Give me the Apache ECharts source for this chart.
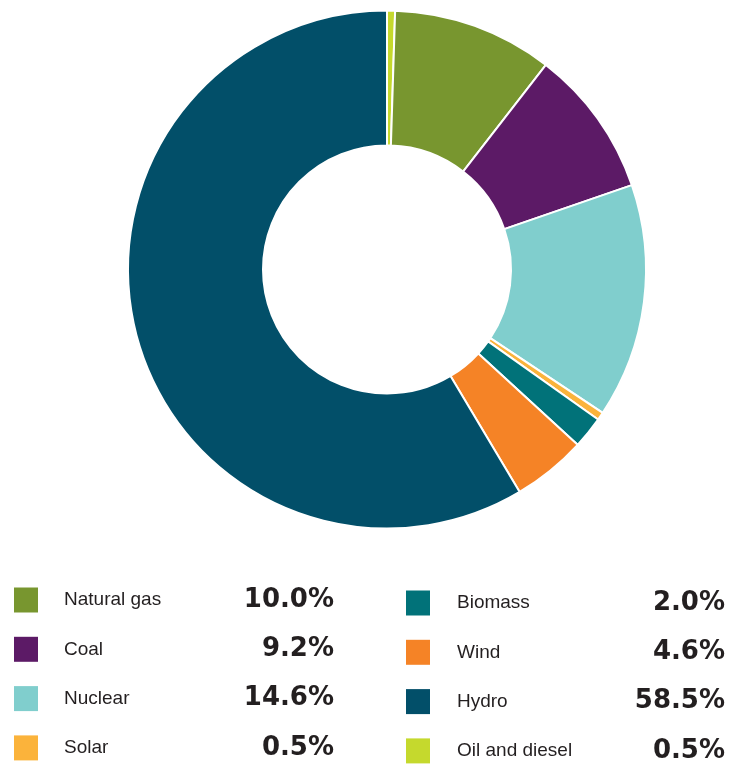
<!DOCTYPE html>
<html>
<head>
<meta charset="utf-8">
<script src="https://cdn.jsdelivr.net/npm/echarts@6/dist/echarts.min.js"></script>
<style>
  html, body { margin: 0; padding: 0; background: #ffffff; }
  #chart { width: 733px; height: 765px; }
</style>
</head>
<body>
<div id="chart"></div>
<script>
// Electricity generation mix, share of total (%)
const sources = ['Oil and diesel', 'Natural gas', 'Coal', 'Nuclear', 'Solar', 'Biomass', 'Wind', 'Hydro'];
const shares  = [0.5, 10.0, 9.2, 14.6, 0.5, 2.0, 4.6, 58.5];
const colors  = ['#c5d92d', '#78962f', '#5c1a66', '#80cecd', '#fbb33b', '#017279', '#f58326', '#024f69'];

// Legend columns
const legendLeftCol  = ['Natural gas', 'Coal', 'Nuclear', 'Solar'];
const legendRightCol = ['Biomass', 'Wind', 'Hydro', 'Oil and diesel'];

const shareOf = name => shares[sources.indexOf(name)];

function legendBlock(names, left, top, spacer, nameW, valueW) {
  return {
    data: names,
    orient: 'vertical',
    left: left,
    top: top,
    height: 300,
    padding: 0,
    itemWidth: 24,
    itemHeight: 25,
    itemGap: 23.3,
    icon: 'rect',
    selectedMode: false,
    itemStyle: { borderWidth: 0 },
    formatter: name => '{s| }{n|' + name + '}{v|' + shareOf(name).toFixed(1) + '%}',
    textStyle: {
      rich: {
        s: { width: spacer, fontSize: 19, lineHeight: 25 },
        n: {
          width: nameW, fontSize: 19, lineHeight: 25,
          fontFamily: '"Liberation Sans", Arial, sans-serif',
          color: '#231f20'
        },
        v: {
          width: valueW, align: 'right', fontSize: 26, lineHeight: 25,
          fontFamily: '"DejaVu Sans", sans-serif', fontWeight: 'bold',
          color: '#231f20'
        }
      }
    }
  };
}

const chart = echarts.init(document.getElementById('chart'), null, { renderer: 'canvas' });

chart.setOption({
  animation: false,
  backgroundColor: '#ffffff',
  color: colors,
  legend: [
    legendBlock(legendLeftCol, 14, 587, 21, 140, 130),
    legendBlock(legendRightCol, 406, 590, 22, 140, 128)
  ],
  series: [{
    type: 'pie',
    center: [387, 269.5],
    radius: [124, 259],
    startAngle: 90,
    clockwise: true,
    avoidLabelOverlap: false,
    label: { show: false },
    labelLine: { show: false },
    emphasis: { disabled: true },
    itemStyle: { borderColor: '#ffffff', borderWidth: 2 },
    data: sources.map((name, i) => ({ name: name, value: shares[i] }))
  }]
});
</script>
</body>
</html>
